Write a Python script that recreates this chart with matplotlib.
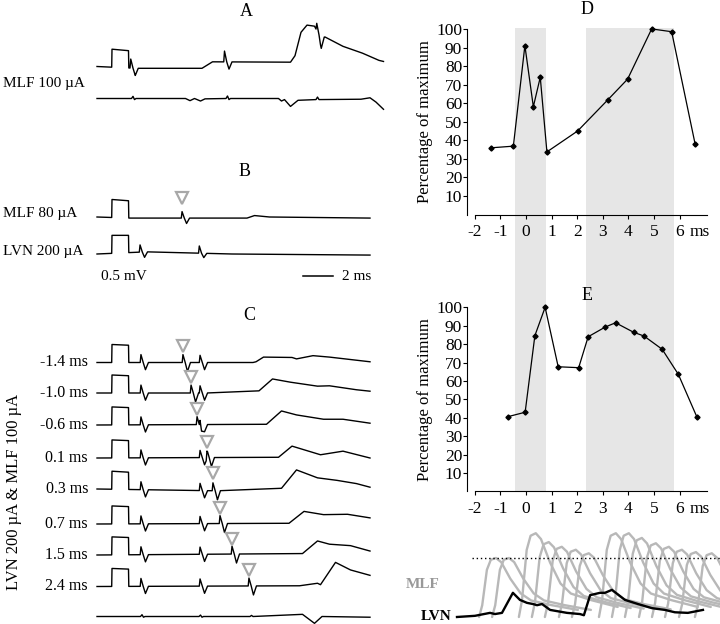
import numpy as np
import matplotlib
matplotlib.use("Agg")
import matplotlib.pyplot as plt
from matplotlib.transforms import offset_copy

plt.rcParams["font.family"] = ["Liberation Serif", "DejaVu Serif"]
plt.rcParams["axes.unicode_minus"] = False

W, H = 720, 624

# ---------------------------------------------------------------- data
# D / E : percentage of maximum vs. interval (ms)
d_delay = [-1.37, -0.49, -0.04, 0.29, 0.56, 0.82, 2.02, 3.19, 3.97, 4.91, 5.69, 6.61]
d_pct = [36.0, 36.9, 91.2, 58.2, 74.1, 33.8, 45.1, 61.8, 73.1, 100.2, 98.7, 37.8]
e_delay = [-0.70, -0.03, 0.35, 0.75, 1.26, 2.06, 2.43, 3.10, 3.50, 4.21, 4.61,
           5.32, 5.95, 6.67]
e_pct = [40.6, 43.0, 84.6, 100.0, 67.7, 67.2, 84.0, 89.3, 91.6, 86.4, 84.4,
         77.2, 63.6, 40.6]
shaded_windows = [(-0.43, 0.78), (2.34, 5.78)]
delay_ticks = [-2, -1, 0, 1, 2, 3, 4, 5, 6]
pct_ticks = [10, 20, 30, 40, 50, 60, 70, 80, 90, 100]

# field-potential traces: (ms, mV) breakpoints relative to the trace baseline
cal_pulse = [(0.98, 0.0), (1.0, 0.5), (2.1, 0.48), (2.12, 0.0)]

a_top_wave = [(0, 0), (2.6, -0.05), (7.0, -0.05), (7.7, 0.13), (12.9, 0.12),
              (13.2, 0.3), (13.6, 0.95), (14.0, 1.15), (14.5, 1.12), (14.9, 0.8),
              (15.2, 0.82), (16.4, 0.56), (17.7, 0.37), (18.8, 0.17), (19.1, 0.14)]
a_top_spikes = [(2.25, 0.25, 0.2), (8.5, 0.3, 0.2), (14.65, 0.2, 0.3)]
a_bot_wave = [(0, 0), (2.3, 0), (2.4, 0.06), (2.5, -0.03), (2.6, 0), (5.9, 0),
              (6.2, -0.06), (6.5, 0), (6.9, -0.07), (7.2, -0.01), (8.6, 0),
              (8.7, 0.07), (8.8, -0.03), (8.9, 0), (12.1, 0), (12.3, -0.07),
              (12.5, -0.03), (12.9, -0.22), (13.4, -0.05), (14.6, -0.03),
              (14.7, 0.04), (14.8, -0.03), (17.6, -0.02), (18.2, 0.02),
              (18.6, -0.1), (19.1, -0.3)]

b_mlf_wave = [(0, 0), (2.2, -0.03), (10.0, -0.03), (10.5, 0.04), (11.5, 0.0), (18.2, -0.03)]
b_mlf_spikes = [(5.67, 0.18, 0.15)]
b_lvn_wave = [(0, 0), (3.3, 0.06), (9.0, 0.0), (18.2, -0.03)]
b_lvn_spikes = [(2.87, 0.2, 0.15), (6.82, 0.2, 0.12)]
b_mlf_time = 5.67

c_labels = ["-1.4 ms", "-1.0 ms", "-0.6 ms", "0.1 ms", "0.3 ms", "0.7 ms", "1.5 ms", "2.4 ms"]
c_mlf_time = [5.73, 6.27, 6.67, 7.33, 7.73, 8.2, 9.0, 10.13]
c_lvn_time = 2.93
c_fixed_time = 6.87
c_waves = [
    [(0, 0), (10.4, 0), (10.6, 0.02), (11.1, 0.15), (13.0, 0.14), (13.3, 0.1),
     (14.4, 0.19), (15.5, 0.15), (18.2, 0.02)],
    [(0, 0), (7.3, 0), (10.8, 0.06), (11.7, 0.39), (12.9, 0.3), (14.7, 0.19),
     (15.5, 0.2), (17.3, 0.09), (18.2, 0.05)],
    [(0, 0), (11.3, 0.02), (12.3, 0.39), (13.3, 0.28), (15.1, 0.16), (16.4, 0.16),
     (18.2, 0.05)],
    [(0, 0), (12.1, 0.02), (13.0, 0.33), (14.9, 0.09), (16.4, 0.19), (18.2, 0.0)],
    [(0, 0), (8.0, -0.05), (12.3, 0.02), (13.3, 0.53), (14.7, 0.31), (16.0, 0.24),
     (17.3, 0.15), (18.2, 0.05)],
    [(0, 0), (12.8, 0.02), (13.8, 0.35), (15.1, 0.26), (16.7, 0.27), (18.2, 0.17)],
    [(0, 0), (13.7, 0.04), (14.7, 0.39), (15.5, 0.3), (16.9, 0.26), (18.2, 0.11)],
    [(0, 0), (13.5, 0.02), (14.7, 0.09), (14.9, 0.05), (15.9, 0.67), (16.9, 0.46),
     (18.2, 0.31)],
]
c_noise_wave = [(0, 0), (2.9, 0), (3.0, 0.05), (3.1, -0.02), (3.2, 0), (6.8, 0),
                (6.9, 0.04), (7.0, -0.02), (7.1, 0), (10.2, 0), (10.3, 0.03),
                (10.4, 0), (13.7, 0.06), (14.5, -0.19), (15.0, 0.0), (18.2, -0.02)]

# inset: MLF responses (grey) at successive delays and the LVN response (black)
mlf_onset = [0.85, 1.35, 2.38, 2.88, 3.38, 3.92, 4.42, 5.46, 5.96, 6.46, 7.0,
             7.5, 8.0, 8.54, 9.15]
mlf_amp = [1.0, 1.0, 1.42, 1.27, 1.19, 1.14, 1.08, 1.42, 1.42, 1.34, 1.25,
           1.19, 1.14, 1.10, 1.08]
mlf_shape_t = [0, 0.12, 0.3, 0.45, 0.65, 0.85, 1.2, 1.6, 2.0, 2.8, 3.8]
mlf_shape_v = [0, 0.2, 0.8, 0.97, 1.0, 0.93, 0.65, 0.4, 0.28, 0.2, 0.12]
lvn_t = [0, 0.69, 1.27, 1.46, 1.73, 2.15, 2.42, 2.69, 2.92, 3.08, 3.27, 3.58,
         4.23, 4.73, 4.88, 5.12, 5.5, 5.69, 5.96, 6.46, 6.96, 7.5, 8.0, 8.38,
         8.88, 9.46]
lvn_v = [0, 0.02, 0.07, 0.05, 0.07, 0.41, 0.29, 0.24, 0.22, 0.2, 0.22, 0.12,
         0.07, 0.05, 0.03, 0.37, 0.41, 0.41, 0.46, 0.29, 0.22, 0.15, 0.12, 0.08,
         0.07, 0.12]


# ---------------------------------------------------------------- helpers
def px(x, y):
    return x / W, 1 - y / H


def spike(t, up, down):
    return [(t - 0.05, 0), (t, up), (t + 0.15, 0), (t + 0.3, -down), (t + 0.5, 0)]


def build_trace(t_end, wave, spikes=(), pulse=True):
    parts = [spike(*s) for s in spikes]
    if pulse:
        parts.append(cal_pulse)
    knots = np.concatenate([[p[0] for p in part] for part in parts + [wave]] + [[0, t_end]])
    knots = np.unique(knots[(knots >= 0) & (knots <= t_end)])
    tw, vw = zip(*wave)
    v = np.interp(knots, tw, vw)
    for part in parts:
        tp, vp = zip(*part)
        v = v + np.interp(knots, tp, vp, left=0, right=0)
    return knots, v


fig = plt.figure(figsize=(W / 100, H / 100), dpi=100)

# ---------------------------------------------------------------- traces A-C
tr = fig.add_axes([0, 0, 1, 1])
tr.set_xlim(-97 / 15, (W - 97) / 15)   # 15 px per ms
tr.set_ylim(0, H / 36)                 # 36 px per mV
tr.axis("off")


def base(py):
    return (H - py) / 36


tri = dict(marker="v", ms=8.5, mfc="white", mec="#a8a8a8", mew=1.6, ls="none")
lw = 1.0

t, v = build_trace(19.1, a_top_wave, a_top_spikes)
tr.plot(t, v + base(66.5), color="black", lw=lw)
t, v = build_trace(19.1, a_bot_wave, pulse=False)
tr.plot(t, v + base(98.5), color="black", lw=lw)

t, v = build_trace(18.2, b_mlf_wave, b_mlf_spikes)
tr.plot(t, v + base(217), color="black", lw=lw)
tr.plot([b_mlf_time], [base(217) + 0.53], **tri)
t, v = build_trace(18.2, b_lvn_wave, b_lvn_spikes)
tr.plot(t, v + base(254), color="black", lw=lw)

c_base = [362.5, 393, 425, 458, 489, 524, 555, 586.5]
for py, wave, tm, lab in zip(c_base, c_waves, c_mlf_time, c_labels):
    spikes = [(c_lvn_time, 0.22, 0.2), (c_fixed_time, 0.2, 0.2), (tm, 0.22, 0.25)]
    t, v = build_trace(18.2, wave, spikes)
    tr.plot(t, v + base(py), color="black", lw=lw)
    tr.plot([tm], [base(py) + 0.45], **tri)
    fig.text(*px(88, py), lab, ha="right", va="center", fontsize=11.5)
t, v = build_trace(18.2, c_noise_wave, pulse=False)
tr.plot(t, v + base(616.5), color="black", lw=lw)

# scale bar 2 ms
tr.plot([(303 - 97) / 15, (303 - 97) / 15 + 2], [base(276)] * 2, color="black", lw=1.1)
fig.text(*px(342, 276), "2 ms", ha="left", va="center", fontsize=11)
fig.text(*px(124, 276), "0.5 mV", ha="center", va="center", fontsize=11)

fig.text(*px(246, 12), "A", ha="center", va="center", fontsize=13)
fig.text(*px(245, 172), "B", ha="center", va="center", fontsize=13)
fig.text(*px(249, 315), "C", ha="center", va="center", fontsize=13)
fig.text(*px(3, 83), "MLF 100 \u00b5A", ha="left", va="center", fontsize=11)
fig.text(*px(3, 214), "MLF 80 \u00b5A", ha="left", va="center", fontsize=11)
fig.text(*px(3, 252), "LVN 200 \u00b5A", ha="left", va="center", fontsize=11)
fig.text(*px(14, 492), "LVN 200 \u00b5A & MLF 100 \u00b5A", ha="center", va="center",
         rotation=90, fontsize=12)

# ---------------------------------------------------------------- D / E
XL = (-2.30, 7.07)
bg = fig.add_axes([467 / W, 1 - 492 / H, 240 / W, (492 - 28) / H])
bg.set_xlim(*XL)
for lo, hi in shaded_windows:
    bg.axvspan(lo, hi, color="#e6e6e6", lw=0)
bg.axis("off")


def pct_axes(y_top, y_zero, xs, ys, letter, letter_y):
    ax = fig.add_axes([467 / W, 1 - y_zero / H, 240 / W, (y_zero - y_top) / H],
                      facecolor="none")
    ax.plot(xs, ys, color="black", lw=0.9, marker="D", ms=2.6, clip_on=False)
    ax.set_xlim(*XL)
    ax.set_ylim(0, 100)
    for s in ("top", "right"):
        ax.spines[s].set_visible(False)
    ax.spines["bottom"].set_bounds(-2, XL[1])
    ax.spines["left"].set_linewidth(0.8)
    ax.spines["bottom"].set_linewidth(0.8)
    ax.set_xticks(delay_ticks)
    ax.set_yticks(pct_ticks)
    ax.tick_params(axis="x", direction="out", length=3, width=0.8, labelsize=12.5, pad=4)
    ax.tick_params(axis="y", direction="out", length=3, width=0.8, labelsize=12.5, pad=0.5)
    ax.set_ylabel("Percentage of maximum", fontsize=12, labelpad=2)
    trans = offset_copy(ax.get_xaxis_transform(), fig=fig, y=-7, units="points")
    ax.text(6.4, 0, "ms", transform=trans, ha="left", va="top", fontsize=12.5)
    fig.text(*px(587, letter_y), letter, ha="center", va="center", fontsize=13)
    return ax


pct_axes(29.3, 214.5, d_delay, d_pct, "D", 9)
pct_axes(307.3, 491.4, e_delay, e_pct, "E", 296)

# ---------------------------------------------------------------- inset
ins = fig.add_axes([440 / W, 0, 280 / W, 99 / H])
ins.set_xlim((440 - 457) / 26, (720 - 457) / 26)
ins.set_ylim((617 - 624) / 59, (617 - 525) / 59)
ins.axis("off")
for on, amp in zip(mlf_onset, mlf_amp):
    ins.plot(np.array(mlf_shape_t) + on, np.array(mlf_shape_v) * amp,
             color="#b8b8b8", lw=1.7, solid_joinstyle="round", solid_capstyle="round")
ins.plot(lvn_t, lvn_v, color="black", lw=1.7)
ins.axhline(1.0, xmin=(472 - 440) / 280, xmax=1, color="black", lw=1, ls=(0, (1, 2)))
fig.text(*px(440, 584), "MLF", ha="right", va="center", fontsize=11,
         fontweight="bold", color="#999999")
fig.text(*px(452, 617), "LVN", ha="right", va="center", fontsize=11,
         fontweight="bold", color="black")

fig.savefig("out.png", dpi=100)
